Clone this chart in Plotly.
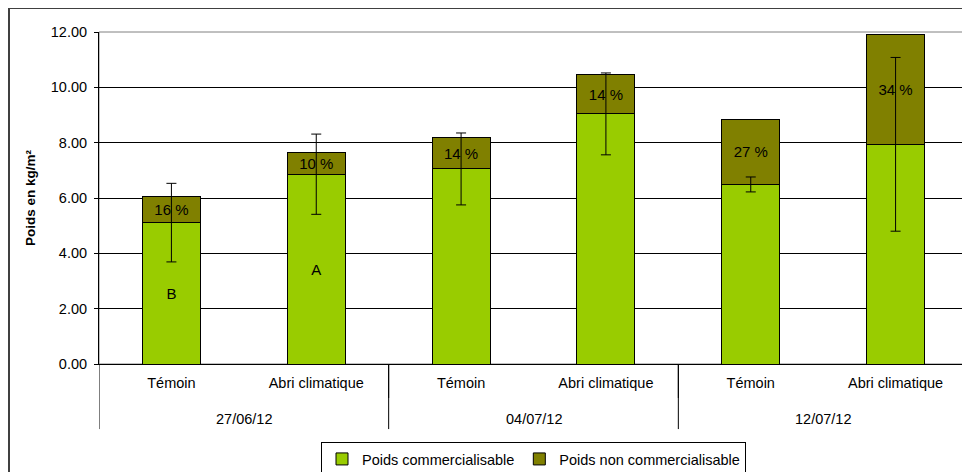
import plotly.graph_objects as go

dates = ["27/06/12", "04/07/12", "12/07/12"]
treatments = ["Témoin", "Abri climatique", "Témoin", "Abri climatique", "Témoin", "Abri climatique"]
positions = [0, 1, 2, 3, 4, 5]
commercial = [5.11, 6.86, 7.05, 9.04, 6.49, 7.94]
non_commercial = [0.96, 0.78, 1.13, 1.43, 2.36, 3.96]
error_commercial = [1.42, 1.45, 1.30, 1.48, 0.27, 3.14]
pct_labels = ["16 %", "10 %", "14 %", "14 %", "27 %", "34 %"]
letters = ["B", "A", "", "", "", ""]
y_ticks = [0, 2, 4, 6, 8, 10, 12]

FONT = "Liberation Sans, Arial, sans-serif"
TXT = 14.5

fig = go.Figure()
fig.add_trace(go.Bar(
    x=positions, y=commercial, name="Poids commercialisable",
    marker=dict(color="#99CC00", line=dict(color="#000000", width=1)),
    text=letters, textposition="inside", insidetextanchor="middle",
    textfont=dict(family=FONT, size=15, color="#000000"),
    textangle=0, width=0.4,
))
fig.add_trace(go.Bar(
    x=positions, y=non_commercial, name="Poids non commercialisable",
    marker=dict(color="#808000", line=dict(color="#000000", width=1)),
    text=pct_labels, textposition="inside", insidetextanchor="middle",
    textfont=dict(family=FONT, size=15, color="#000000"),
    textangle=0, width=0.4,
))
fig.add_trace(go.Scatter(
    x=positions, y=commercial, mode="markers", showlegend=False,
    marker=dict(size=1, color="rgba(0,0,0,0)"),
    error_y=dict(type="data", array=error_commercial, visible=True,
                 color="#000000", thickness=1, width=5),
    hoverinfo="skip",
))

shapes = []
# group dividers (long) and inner dividers (short)
n = len(positions)
for i in range(0, n + 1, 2):
    xv = i - 0.5
    shapes.append(dict(type="line", xref="x", yref="paper",
                       x0=xv, x1=xv, y0=0, y1=-0.196,
                       line=dict(color="#000000", width=1)))
for i in range(1, n, 2):
    xv = i + 0.5
    shapes.append(dict(type="line", xref="x", yref="paper",
                       x0=xv, x1=xv, y0=0, y1=-0.1024,
                       line=dict(color="#000000", width=1)))
# plot area border (grey)
shapes.append(dict(type="rect", xref="paper", yref="paper", x0=0, x1=1, y0=0, y1=1,
                   line=dict(color="#808080", width=1), layer="below"))
# outer chart border
shapes.append(dict(type="rect", xref="paper", yref="paper",
                   x0=(1 - 91) / 869, x1=(990 - 91) / 869,
                   y0=(356 - 490) / 332, y1=(356 - 0) / 332,
                   line=dict(color="#404040", width=2)))

annotations = []
for k, d in enumerate(dates):
    annotations.append(dict(text=d, xref="x", yref="paper",
                            x=2 * k + 0.5, y=(356 - 411) / 332,
                            xanchor="center", yanchor="middle", showarrow=False,
                            font=dict(family=FONT, size=TXT, color="#000000")))

fig.update_layout(
    width=962, height=464,
    margin=dict(l=91, r=2, t=24, b=108, autoexpand=False),
    barmode="stack",
    plot_bgcolor="#FFFFFF", paper_bgcolor="#FFFFFF",
    font=dict(family=FONT, size=TXT, color="#000000"),
    uniformtext=dict(minsize=15, mode="show"),
    showlegend=True,
    legend=dict(orientation="h", x=0.5, xanchor="center",
                y=(356 - 434) / 332, yanchor="top",
                bordercolor="#000000", borderwidth=1,
                font=dict(family=FONT, size=TXT, color="#000000"),
                traceorder="normal", itemwidth=30,
                tracegroupgap=0),
    shapes=shapes,
    annotations=annotations,
    xaxis=dict(
        range=[-0.5, 5.5],
        tickvals=positions, ticktext=treatments,
        showline=True, linecolor="#000000", linewidth=1,
        tickfont=dict(family=FONT, size=TXT, color="#000000"),
        showgrid=False, ticks="", zeroline=False,
        ticklabelstandoff=6, automargin=False,
    ),
    yaxis=dict(
        range=[0, 12], tickvals=y_ticks, tickformat=".2f",
        showgrid=True, gridcolor="#000000", gridwidth=1,
        showline=True, linecolor="#000000", linewidth=1,
        ticks="outside", ticklen=4, tickcolor="#000000",
        tickfont=dict(family=FONT, size=TXT, color="#000000"),
        ticklabelstandoff=4, automargin=False,
        zeroline=False,
        title=dict(text="<b>Poids en kg/m²</b>", font=dict(family=FONT, size=13.5, color="#000000"),
                   standoff=12),
    ),
)

fig.write_html("out.html")
